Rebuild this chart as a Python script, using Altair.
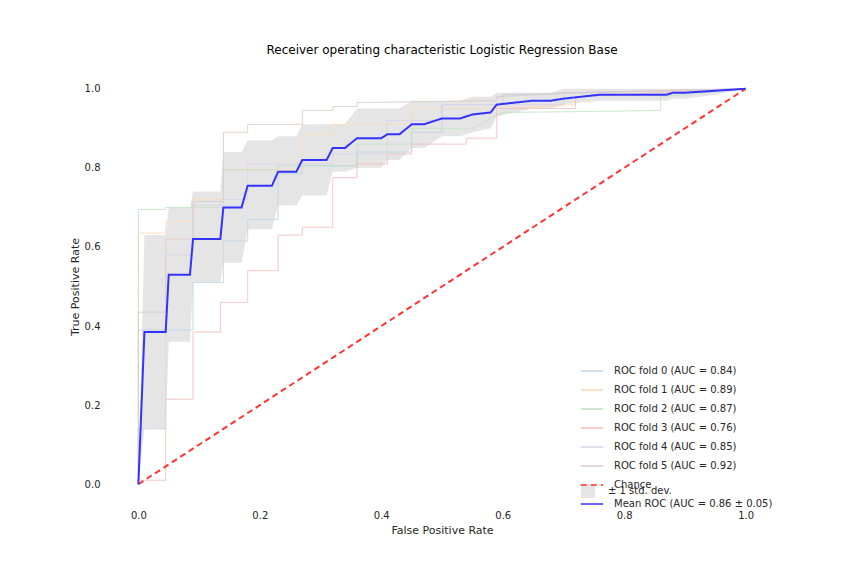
import altair as alt
import pandas as pd

# -----------------------
# Data
# -----------------------

fold_names = [
    "ROC fold 0 (AUC = 0.84)", "ROC fold 1 (AUC = 0.89)", "ROC fold 2 (AUC = 0.87)",
    "ROC fold 3 (AUC = 0.76)", "ROC fold 4 (AUC = 0.85)", "ROC fold 5 (AUC = 0.92)",
]
fold_fpr = [
    [0, 0, 0.09, 0.09, 0.14, 0.14, 0.18, 0.18, 0.23, 0.23, 0.27, 0.27, 0.36, 0.36, 0.45, 0.45, 0.5, 0.5, 0.6, 0.6, 1],
    [0, 0, 0.045, 0.045, 0.09, 0.09, 0.14, 0.14, 0.27, 0.27, 0.32, 0.32, 0.45, 0.45, 0.6, 0.72, 0.72, 1],
    [0, 0, 0.045, 0.045, 0.14, 0.14, 0.23, 0.23, 0.36, 0.36, 0.45, 0.45, 0.55, 0.6, 0.86, 0.86, 1],
    [0, 0, 0.045, 0.045, 0.09, 0.09, 0.135, 0.135, 0.18, 0.18, 0.23, 0.23, 0.27, 0.27, 0.32, 0.32, 0.36, 0.36, 0.41, 0.41, 0.45, 0.45, 0.5, 0.5, 0.54, 0.54, 0.59, 0.59, 0.72, 0.72, 1],
    [0, 0, 0.045, 0.045, 0.09, 0.09, 0.135, 0.135, 0.18, 0.18, 0.32, 0.32, 0.41, 0.41, 0.5, 0.5, 0.7, 0.7, 1],
    [0, 0, 0.045, 0.045, 0.09, 0.09, 0.14, 0.14, 0.18, 0.18, 0.27, 0.27, 0.32, 0.32, 0.36, 0.36, 0.59, 0.59, 0.72, 1],
]
fold_tpr = [
    [0, 0.39, 0.39, 0.51, 0.51, 0.615, 0.615, 0.67, 0.67, 0.785, 0.785, 0.805, 0.805, 0.84, 0.84, 0.89, 0.89, 0.96, 0.96, 0.985, 1],
    [0, 0.635, 0.635, 0.665, 0.665, 0.72, 0.72, 0.795, 0.795, 0.885, 0.885, 0.91, 0.91, 0.95, 0.95, 0.96, 0.99, 1],
    [0, 0.695, 0.695, 0.70, 0.70, 0.795, 0.795, 0.805, 0.805, 0.86, 0.86, 0.90, 0.90, 0.94, 0.945, 0.98, 1],
    [0, 0.01, 0.01, 0.215, 0.215, 0.385, 0.385, 0.46, 0.46, 0.54, 0.54, 0.63, 0.63, 0.65, 0.65, 0.775, 0.775, 0.81, 0.81, 0.835, 0.835, 0.86, 0.86, 0.86, 0.86, 0.875, 0.875, 0.95, 0.95, 0.98, 1],
    [0, 0.14, 0.14, 0.58, 0.58, 0.705, 0.705, 0.72, 0.72, 0.81, 0.81, 0.835, 0.835, 0.92, 0.92, 0.96, 0.96, 0.99, 1],
    [0, 0.435, 0.435, 0.62, 0.62, 0.715, 0.715, 0.89, 0.89, 0.91, 0.91, 0.945, 0.945, 0.955, 0.955, 0.965, 0.97, 0.98, 0.99, 1],
]
fold_colors = ["#bcd6e8", "#ffd8b6", "#c0e3c0", "#f3bebe", "#dfd1ec", "#dccbc9"]

mean_fpr = [0, 0.01, 0.045, 0.05, 0.085, 0.09, 0.135, 0.14, 0.17, 0.18, 0.22, 0.23, 0.26, 0.27,
            0.31, 0.32, 0.34, 0.36, 0.4, 0.41, 0.43, 0.45, 0.47, 0.5, 0.53, 0.55, 0.58, 0.59,
            0.62, 0.65, 0.68, 0.7, 0.73, 0.76, 0.87, 0.88, 0.9, 0.95, 1]
mean_tpr = [0, 0.385, 0.385, 0.53, 0.53, 0.62, 0.62, 0.70, 0.70, 0.755, 0.755, 0.79, 0.79, 0.82,
            0.82, 0.85, 0.85, 0.875, 0.875, 0.885, 0.885, 0.91, 0.91, 0.925, 0.925, 0.935, 0.94, 0.96,
            0.965, 0.97, 0.97, 0.975, 0.98, 0.985, 0.985, 0.99, 0.99, 0.995, 1]
tpr_lower = [0, 0.14, 0.14, 0.36, 0.36, 0.51, 0.51, 0.56, 0.56, 0.645, 0.645, 0.705, 0.705, 0.73,
             0.73, 0.79, 0.79, 0.80, 0.80, 0.82, 0.82, 0.85, 0.85, 0.88, 0.88, 0.89, 0.90, 0.93,
             0.94, 0.95, 0.95, 0.96, 0.965, 0.97, 0.97, 0.975, 0.975, 0.985, 1]
tpr_upper = [0, 0.63, 0.63, 0.70, 0.70, 0.74, 0.74, 0.84, 0.84, 0.87, 0.87, 0.88, 0.88, 0.91,
             0.91, 0.91, 0.91, 0.95, 0.95, 0.95, 0.95, 0.97, 0.97, 0.97, 0.97, 0.98, 0.98, 0.99,
             0.99, 0.99, 0.99, 1.0, 1.0, 1.0, 1.0, 1.0, 1.0, 1.0, 1]

chance_name = "Chance"
mean_name = "Mean ROC (AUC = 0.86 ± 0.05)"
band_name = "± 1 std. dev."

# -----------------------
# Build tables
# -----------------------

rows = []
for name, xs, ys in zip(fold_names, fold_fpr, fold_tpr):
    for i, (x, y) in enumerate(zip(xs, ys)):
        rows.append({"series": name, "order": i, "fpr": x, "tpr": y})
folds = pd.DataFrame(rows)

chance = pd.DataFrame({"series": chance_name, "order": [0, 1], "fpr": [0, 1], "tpr": [0, 1]})
mean = pd.DataFrame({"series": mean_name, "order": range(len(mean_fpr)),
                     "fpr": mean_fpr, "tpr": mean_tpr})
band = pd.DataFrame({"band": band_name, "fpr": mean_fpr, "lo": tpr_lower, "hi": tpr_upper})

domain = fold_names + [chance_name, mean_name]
color_scale = alt.Scale(domain=domain, range=fold_colors + ["#ff3333", "#3333ff"])
dash_scale = alt.Scale(domain=domain, range=[[1, 0]] * 6 + [[6, 4], [1, 0]])

legend = alt.Legend(title=None, orient="none", legendX=472, legendY=290, symbolType="stroke",
                    labelFontSize=10, symbolSize=500, rowPadding=2, labelOffset=10,
                    symbolStrokeWidth=1.5)

xs = alt.X("fpr:Q", scale=alt.Scale(domain=[-0.05, 1.05], nice=False),
           axis=alt.Axis(title="False Positive Rate", values=[0, 0.2, 0.4, 0.6, 0.8, 1.0],
                         format=".1f", domain=False, ticks=False, grid=False, labelPadding=6))
ys = alt.Y("tpr:Q", scale=alt.Scale(domain=[-0.05, 1.05], nice=False),
           axis=alt.Axis(title="True Positive Rate", values=[0, 0.2, 0.4, 0.6, 0.8, 1.0],
                         format=".1f", domain=False, ticks=False, grid=False, labelPadding=8))


def lines(df, width):
    return alt.Chart(df).mark_line(strokeWidth=width).encode(
        x=xs, y=ys, order="order:Q",
        color=alt.Color("series:N", scale=color_scale, legend=legend),
        strokeDash=alt.StrokeDash("series:N", scale=dash_scale, legend=legend),
    )


area = alt.Chart(band).mark_area().encode(
    x=xs, y=alt.Y("lo:Q"), y2="hi:Q",
    fill=alt.Fill("band:N", scale=alt.Scale(range=["#e5e5e5"]),
                  legend=alt.Legend(title=None, orient="none", legendX=472, legendY=414,
                                    symbolType="square", labelFontSize=10, symbolSize=200,
                                    labelOffset=12)),
)

chart = (area + lines(folds, 1) + lines(chance, 2) + lines(mean, 2)).properties(
    width=668, height=435,
    autosize=alt.AutoSizeParams(type="none"),
    padding={"left": 100, "top": 61, "right": 0, "bottom": 60},
    title=alt.Title("Receiver operating characteristic Logistic Regression Base",
                    fontSize=12, fontWeight="normal", offset=12),
).configure(font="DejaVu Sans").configure_view(stroke=None).configure_axis(
    labelFontSize=10, titleFontSize=11, titleFontWeight="normal",
    labelColor="#262626", titleColor="#262626",
).configure_legend(labelColor="#262626")

chart.save("out.html", embed_options={"renderer": "svg", "actions": False})
